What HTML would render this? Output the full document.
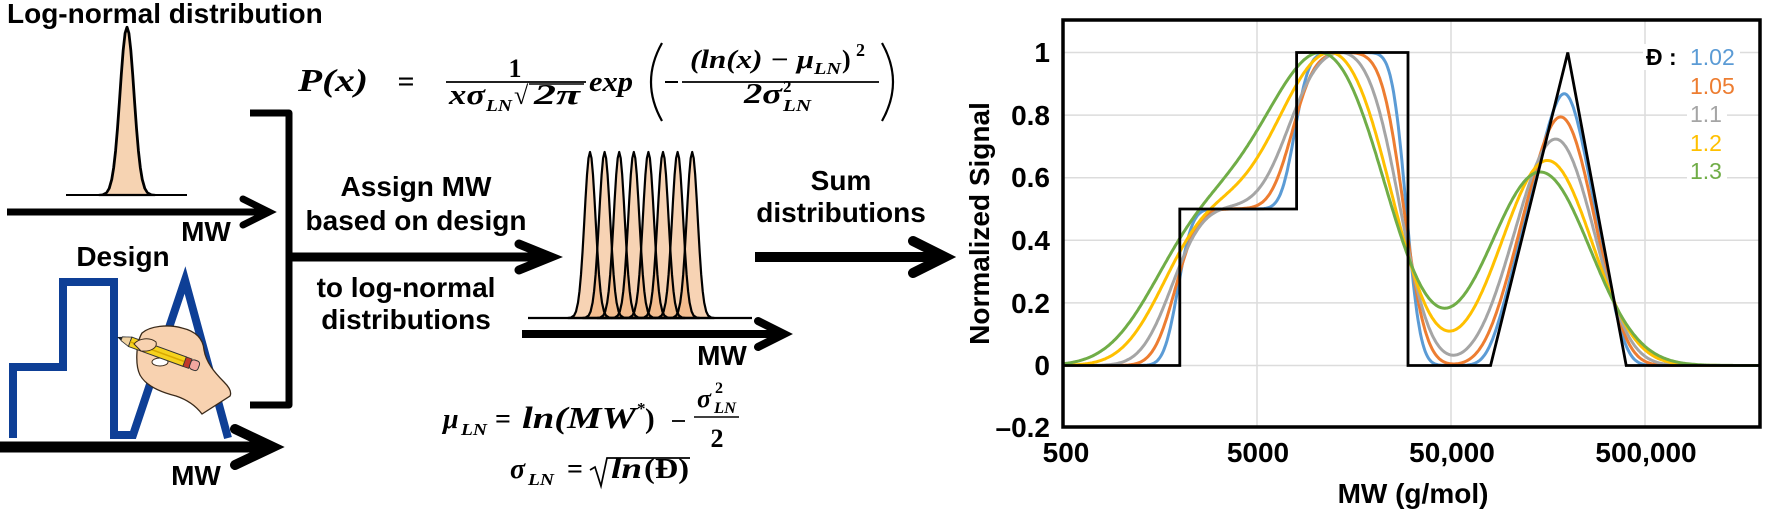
<!DOCTYPE html>
<html>
<head>
<meta charset="utf-8">
<style>
html,body{margin:0;padding:0;background:#fff;}
svg{display:block;}
.lb{font-family:"Liberation Sans",Arial,sans-serif;font-weight:bold;font-size:28px;fill:#000;}
.m{font-family:"Liberation Serif","Times New Roman",serif;font-weight:bold;font-style:italic;fill:#000;}
.mu{font-family:"Liberation Serif","Times New Roman",serif;font-weight:bold;font-style:normal;fill:#000;}
.lg{font-family:"Liberation Sans",Arial,sans-serif;font-size:23px;}
</style>
</head>
<body>
<svg id="s" width="1765" height="511" viewBox="0 0 1765 511" xmlns="http://www.w3.org/2000/svg">
<defs>
<path id="pk" d="M-22 0 L-19 -0.4 L-16 -2.4 L-14 -6.5 L-12 -15.4 L-10.5 -26.9 L-9 -43.5 L-7.5 -65.6 L-6 -91.6 L-4.5 -118.9 L-3 -143.1 L-1.5 -159.9 L0 -166 L1.5 -159.9 L3 -143.1 L4.5 -118.9 L6 -91.6 L7.5 -65.6 L9 -43.5 L10.5 -26.9 L12 -15.4 L14 -6.5 L16 -2.4 L19 -0.4 L22 0 Z"/>
<clipPath id="plot"><rect x="1063" y="20" width="697" height="407"/></clipPath>
</defs>

<!-- ===== LEFT: log-normal single peak ===== -->
<text class="lb" x="7" y="23">Log-normal distribution</text>
<line x1="66" y1="195" x2="187" y2="195" stroke="#000" stroke-width="2"/>
<use href="#pk" transform="translate(127,195) scale(1.27,1.012)" fill="#F6D3B2" stroke="#000" stroke-width="2.2" vector-effect="non-scaling-stroke" stroke-linejoin="round"/>
<!-- top arrow -->
<line x1="7" y1="212" x2="265" y2="212" stroke="#000" stroke-width="7"/>
<polyline points="243,199 269,212 243,225" fill="none" stroke="#000" stroke-width="7" stroke-linecap="round" stroke-linejoin="miter"/>
<text class="lb" x="206" y="241" text-anchor="middle" font-size="27">MW</text>

<!-- bracket -->
<path d="M250 113 L289 113 L289 405 L250 405" fill="none" stroke="#000" stroke-width="7" stroke-linejoin="round"/>

<!-- Design -->
<text class="lb" x="123" y="266" text-anchor="middle">Design</text>
<polyline points="13,438 13,367 63,367 63,282 114,282 114,435 133,435 185,280 228,438" fill="none" stroke="#0E3F96" stroke-width="8" stroke-linejoin="miter"/>
<!-- hand -->
<path d="M142 333 C150 326,168 324,182 328 C195 331,203 338,204 350 C206 362,214 372,224 382 C229 387,232 392,230 396 L202 414 C196 406,188 400,176 396 C160 392,146 386,140 375 C135 365,136 343,142 333 Z" fill="#F8D2B0" stroke="#3a2a1a" stroke-width="1.3"/>
<ellipse cx="160" cy="362" rx="8" ry="4" fill="#fff" stroke="#3a2a1a" stroke-width="1"/>
<g transform="translate(117,337) rotate(20)">
<polygon points="0,0 5,-2 5,2" fill="#222"/>
<polygon points="5,-2 14,-5 14,5 5,2" fill="#F1D3A1" stroke="#333" stroke-width="0.8"/>
<rect x="14" y="-5" width="58" height="10" fill="#F6D21E" stroke="#333" stroke-width="1"/>
<line x1="14" y1="0" x2="72" y2="0" stroke="#D9A900" stroke-width="1.5"/>
<rect x="72" y="-5" width="6" height="10" fill="#C0392B" stroke="#333" stroke-width="0.8"/>
<rect x="78" y="-5" width="9" height="10" rx="3" fill="#F2A7A0" stroke="#333" stroke-width="1"/>
</g>
<path d="M134 344 C139 338,150 337,156 342 C158 348,150 352,141 351 Z" fill="#F8D2B0" stroke="#3a2a1a" stroke-width="1"/>
<!-- bottom arrow -->
<line x1="0" y1="447" x2="268" y2="447" stroke="#000" stroke-width="11"/>
<polyline points="235,429 273,447 235,465" fill="none" stroke="#000" stroke-width="10" stroke-linecap="round" stroke-linejoin="miter"/>
<text class="lb" x="196" y="485" text-anchor="middle" font-size="27">MW</text>

<!-- ===== Top equation ===== -->
<text class="m" x="298" y="91" font-size="32" textLength="70" lengthAdjust="spacingAndGlyphs">P(x)</text>
<text class="mu" x="406" y="91" font-size="30" text-anchor="middle">=</text>
<text class="mu" x="515" y="77" font-size="26" text-anchor="middle">1</text>
<line x1="446" y1="82" x2="586" y2="82" stroke="#000" stroke-width="1.7"/>
<text class="m" x="449" y="104" font-size="28" textLength="36" lengthAdjust="spacingAndGlyphs">xσ</text>
<text class="m" x="486" y="111" font-size="17" textLength="26" lengthAdjust="spacingAndGlyphs">LN</text>
<text class="mu" x="514" y="104" font-size="26" font-weight="normal">√</text>
<line x1="529" y1="84" x2="584" y2="84" stroke="#000" stroke-width="1.4"/>
<text class="m" x="534" y="104" font-size="29" textLength="46" lengthAdjust="spacingAndGlyphs">2π</text>
<text class="m" x="589" y="91" font-size="28" textLength="44" lengthAdjust="spacingAndGlyphs">exp</text>
<path d="M662 43 Q640 82 662 121" fill="none" stroke="#000" stroke-width="2.2"/>
<line x1="665" y1="82" x2="678" y2="82" stroke="#000" stroke-width="2"/>
<line x1="682" y1="82" x2="879" y2="82" stroke="#000" stroke-width="1.7"/>
<text class="m" x="690" y="68" font-size="26" textLength="124" lengthAdjust="spacingAndGlyphs">(ln(x) − μ</text>
<text class="m" x="814" y="74" font-size="17" textLength="27" lengthAdjust="spacingAndGlyphs">LN</text>
<text class="mu" x="842" y="68" font-size="26" font-weight="normal">)</text>
<text class="mu" x="856" y="56" font-size="18">2</text>
<text class="m" x="744" y="103" font-size="28" textLength="38" lengthAdjust="spacingAndGlyphs">2σ</text>
<text class="mu" x="783" y="92" font-size="17">2</text>
<text class="m" x="783" y="111" font-size="17" textLength="28" lengthAdjust="spacingAndGlyphs">LN</text>
<path d="M882 43 Q904 82 882 121" fill="none" stroke="#000" stroke-width="2.2"/>

<!-- ===== Middle ===== -->
<line x1="290" y1="257" x2="547" y2="257" stroke="#000" stroke-width="9"/>
<polyline points="519,244 551,257 519,270" fill="none" stroke="#000" stroke-width="9" stroke-linecap="round" stroke-linejoin="miter"/>
<text class="lb" x="416" y="196" text-anchor="middle">Assign MW</text>
<text class="lb" x="416" y="230" text-anchor="middle">based on design</text>
<text class="lb" x="406" y="297" text-anchor="middle">to log-normal</text>
<text class="lb" x="406" y="329" text-anchor="middle">distributions</text>

<g fill="#EFA86A" fill-opacity="0.5">
<use href="#pk" x="590" y="318"/><use href="#pk" x="604.6" y="318"/><use href="#pk" x="619.2" y="318"/><use href="#pk" x="633.8" y="318"/>
<use href="#pk" x="648.4" y="318"/><use href="#pk" x="663" y="318"/><use href="#pk" x="677.6" y="318"/><use href="#pk" x="692.2" y="318"/>
</g>
<g fill="none" stroke="#000" stroke-width="2.2" stroke-linejoin="round">
<use href="#pk" x="590" y="318"/><use href="#pk" x="604.6" y="318"/><use href="#pk" x="619.2" y="318"/><use href="#pk" x="633.8" y="318"/>
<use href="#pk" x="648.4" y="318"/><use href="#pk" x="663" y="318"/><use href="#pk" x="677.6" y="318"/><use href="#pk" x="692.2" y="318"/>
</g>
<line x1="528" y1="318" x2="752" y2="318" stroke="#000" stroke-width="2.2"/>
<line x1="522" y1="334" x2="780" y2="334" stroke="#000" stroke-width="8"/>
<polyline points="758,321 784,334 758,347" fill="none" stroke="#000" stroke-width="8" stroke-linecap="round" stroke-linejoin="miter"/>
<text class="lb" x="722" y="365" text-anchor="middle" font-size="27">MW</text>

<!-- bottom formulas -->
<text class="m" x="443" y="428" font-size="28">μ</text>
<text class="m" x="461" y="435" font-size="17" textLength="26" lengthAdjust="spacingAndGlyphs">LN</text>
<text class="mu" x="503" y="428" font-size="28" text-anchor="middle">=</text>
<text class="m" x="522" y="428" font-size="31" textLength="114" lengthAdjust="spacingAndGlyphs">ln(MW</text>
<text class="mu" x="637" y="414" font-size="17" font-weight="normal">*</text>
<text class="mu" x="645" y="428" font-size="29" font-weight="normal">)</text>
<line x1="672" y1="421" x2="685" y2="421" stroke="#000" stroke-width="1.8"/>
<text class="m" x="697" y="407" font-size="26">σ</text>
<text class="mu" x="715" y="393" font-size="16">2</text>
<text class="m" x="714" y="413" font-size="16" textLength="22" lengthAdjust="spacingAndGlyphs">LN</text>
<line x1="694" y1="417" x2="739" y2="417" stroke="#000" stroke-width="1.6"/>
<text class="mu" x="717" y="447" font-size="26" text-anchor="middle">2</text>

<text class="m" x="510" y="478" font-size="28">σ</text>
<text class="m" x="528" y="485" font-size="17" textLength="26" lengthAdjust="spacingAndGlyphs">LN</text>
<text class="mu" x="575" y="478" font-size="28" text-anchor="middle">=</text>
<path d="M590 470 L595 467 L601 486 L607 458 L690 458" fill="none" stroke="#000" stroke-width="1.7"/>
<text class="m" x="611" y="478" font-size="30" textLength="31" lengthAdjust="spacingAndGlyphs">ln</text>
<text class="mu" x="644" y="478" font-size="28" font-weight="normal" textLength="45" lengthAdjust="spacingAndGlyphs">(Đ)</text>

<!-- Sum distributions -->
<text class="lb" x="841" y="190" text-anchor="middle">Sum</text>
<text class="lb" x="841" y="222" text-anchor="middle">distributions</text>
<line x1="755" y1="257" x2="941" y2="257" stroke="#000" stroke-width="10"/>
<polyline points="913,241 945,257 913,273" fill="none" stroke="#000" stroke-width="10" stroke-linecap="round" stroke-linejoin="miter"/>

<!-- ===== CHART ===== -->
<g stroke="#DCDCDC" stroke-width="1.5">
<line x1="1063" y1="52.5" x2="1760" y2="52.5"/>
<line x1="1063" y1="115.1" x2="1760" y2="115.1"/>
<line x1="1063" y1="177.7" x2="1760" y2="177.7"/>
<line x1="1063" y1="240.3" x2="1760" y2="240.3"/>
<line x1="1063" y1="302.9" x2="1760" y2="302.9"/>
<line x1="1063" y1="365.5" x2="1760" y2="365.5"/>
<line x1="1257" y1="20" x2="1257" y2="427"/>
<line x1="1451" y1="20" x2="1451" y2="427"/>
<line x1="1645" y1="20" x2="1645" y2="427"/>
</g>

<g class="lb" text-anchor="end">
<text x="1050" y="62">1</text>
<text x="1050" y="125">0.8</text>
<text x="1050" y="187">0.6</text>
<text x="1050" y="250">0.4</text>
<text x="1050" y="313">0.2</text>
<text x="1050" y="375">0</text>
<text x="1050" y="437">–0.2</text>
</g>
<g class="lb" text-anchor="middle">
<text x="1066" y="462">500</text>
<text x="1258" y="462">5000</text>
<text x="1452" y="462">50,000</text>
<text x="1646" y="462">500,000</text>
<text x="1413" y="503">MW (g/mol)</text>
</g>
<text class="lb" text-anchor="middle" transform="translate(989,223.5) rotate(-90)">Normalized Signal</text>

<!-- legend backgrounds -->
<g fill="#fff">
<rect x="1643" y="44" width="97" height="26"/>
<rect x="1687" y="73" width="52" height="26"/>
<rect x="1687" y="101" width="40" height="26"/>
<rect x="1687" y="130" width="40" height="26"/>
<rect x="1687" y="158" width="40" height="26"/>
</g>

<g id="curves" clip-path="url(#plot)"></g>

<path d="M1063 365.5 L1179.8 365.5 L1179.8 209 L1296.6 209 L1296.6 52.5 L1408 52.5 L1408 365.5 L1490.6 365.5 L1567.8 52.5 L1626.2 365.5 L1760 365.5" fill="none" stroke="#000" stroke-width="2.8" stroke-linejoin="miter"/>

<rect x="1063" y="20" width="697" height="407" fill="none" stroke="#000" stroke-width="3.5"/>

<text class="lg" x="1646" y="65" font-weight="bold" fill="#000">Đ :</text>
<text class="lg" x="1690" y="65" fill="#5B9BD5">1.02</text>
<text class="lg" x="1690" y="94" fill="#ED7D31">1.05</text>
<text class="lg" x="1690" y="122" fill="#A5A5A5">1.1</text>
<text class="lg" x="1690" y="151" fill="#FFC000">1.2</text>
<text class="lg" x="1690" y="179" fill="#70AD47">1.3</text>
</svg>
<script>
(function(){
function erf(x){var sg=x<0?-1:1;x=Math.abs(x);var t=1/(1+0.3275911*x);
var y=1-(((((1.061405429*t-1.453152027)*t)+1.421413741)*t-0.284496736)*t+0.254829592)*t*Math.exp(-x*x);return sg*y;}
function Phi(z){return 0.5*(1+erf(z/Math.SQRT2));}
function phi(z){return Math.exp(-z*z/2)/Math.sqrt(2*Math.PI);}
var A=Math.log(2000),B=Math.log(8000),C=Math.log(30000),D=Math.log(80000),E=Math.log(200000),F=Math.log(400000);
var a=E-D,b=F-E;
function ramp(w,P,s){var z=(w-P)/s;return s*(z*Phi(z)+phi(z));}
function conv(w,s){
var v=0.5*Phi((w-A)/s)+0.5*Phi((w-B)/s)-Phi((w-C)/s);
v+=ramp(w,D,s)/a-(1/a+1/b)*ramp(w,E,s)+ramp(w,F,s)/b;
return v;}
function px(u){return 1063+194*(u-Math.log(500))/Math.LN10;}
function py(v){return 365.5-313*v;}
var Ds=[[1.02,'#5B9BD5'],[1.05,'#ED7D31'],[1.1,'#A5A5A5'],[1.2,'#FFC000'],[1.3,'#70AD47']];
var g=document.getElementById('curves');
var u0=Math.log(500),u1=Math.log(2.05e6),N=600;
Ds.forEach(function(d){
var s0=Math.sqrt(Math.log(d[0])),s=0.94*s0,sh=s0*s0;
var vals=[],m=0;
for(var i=0;i<=N;i++){var u=u0+(u1-u0)*i/N;var v=conv(u+sh,s);vals.push([u,v]);if(v>m)m=v;}
var p='';
for(var j=0;j<vals.length;j++){p+=(j?'L':'M')+px(vals[j][0]).toFixed(1)+' '+py(vals[j][1]/m).toFixed(1);}
var el=document.createElementNS('http://www.w3.org/2000/svg','path');
el.setAttribute('d',p);el.setAttribute('stroke',d[1]);el.setAttribute('stroke-width','3');
el.setAttribute('fill','none');el.setAttribute('stroke-linejoin','round');
g.appendChild(el);
});
})();
</script>
</body>
</html>
